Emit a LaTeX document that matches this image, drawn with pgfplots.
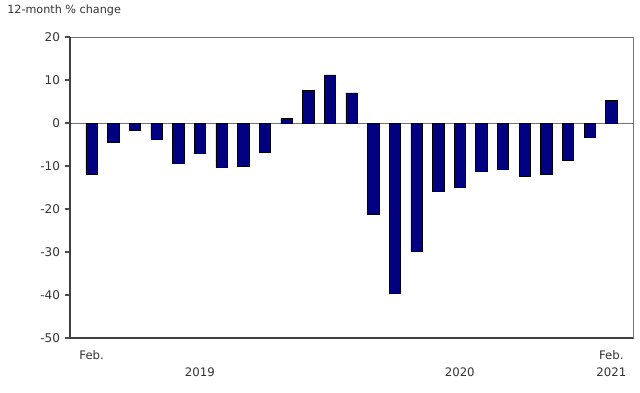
\documentclass[border=0pt]{standalone}
\usepackage{pgfplots}
\pgfplotsset{compat=1.18}
\usepackage{fontspec}
\setmainfont{DejaVu Sans}
\definecolor{barblue}{HTML}{000080}
\definecolor{txt}{HTML}{333333}
\begin{document}
\begin{tikzpicture}
\useasboundingbox (0pt,0pt) rectangle (480pt,294.75pt);
\node[anchor=west,text=txt,font=\fontsize{8.4}{10}\selectfont,inner sep=0pt] at (5.25pt,287pt) {12-month \% change};
\begin{axis}[
  at={(52.5pt,41.25pt)}, anchor=south west,
  scale only axis, width=422.25pt, height=225.75pt,
  xmin=0, xmax=26, ymin=-50, ymax=20,
  ytick={-50,-40,...,20},
  ytick pos=left,
  xtick={1,6,18,25},
  xticklabels={},
  major x tick style={draw=none},
  ytick style={draw=black!70, line width=0.8pt},
  tick align=outside, major tick length=4pt,
  axis line style={draw=black!55, line width=0.6pt},
  ticklabel style={text=txt,font=\fontsize{9}{10}\selectfont},
  /pgf/number format/assume math mode=true,
  extra y ticks={0}, extra y tick labels={},
  extra y tick style={grid=major, major grid style={draw=black!55,line width=0.6pt}, major tick length=0pt},
  clip=false,
]
\draw[black!75, line width=0.9pt] (axis cs:0,20) -- (axis cs:0,-50) -- (axis cs:26,-50);
\addplot[ybar, bar width=8.5pt, fill=barblue, draw=black, line width=0.4pt] coordinates {
(1,-11.9) (2,-4.4) (3,-1.8) (4,-3.8) (5,-9.3) (6,-7.0) (7,-10.3) (8,-10.1) (9,-6.8)
(10,1.0) (11,7.5) (12,11.2) (13,7.0) (14,-21.3) (15,-39.5) (16,-29.9) (17,-15.8)
(18,-15.0) (19,-11.2) (20,-10.8) (21,-12.5) (22,-11.9) (23,-8.6) (24,-3.3) (25,5.2)
};
\node[text=txt,font=\fontsize{8.8}{10}\selectfont,anchor=base] at (axis cs:1,-55) {Feb.};
\node[text=txt,font=\fontsize{8.8}{10}\selectfont,anchor=base] at (axis cs:6,-59) {2019};
\node[text=txt,font=\fontsize{8.8}{10}\selectfont,anchor=base] at (axis cs:18,-59) {2020};
\node[text=txt,font=\fontsize{8.8}{10}\selectfont,anchor=base] at (axis cs:25,-55) {Feb.};
\node[text=txt,font=\fontsize{8.8}{10}\selectfont,anchor=base] at (axis cs:25,-59) {2021};
\end{axis}
\end{tikzpicture}
\end{document}
